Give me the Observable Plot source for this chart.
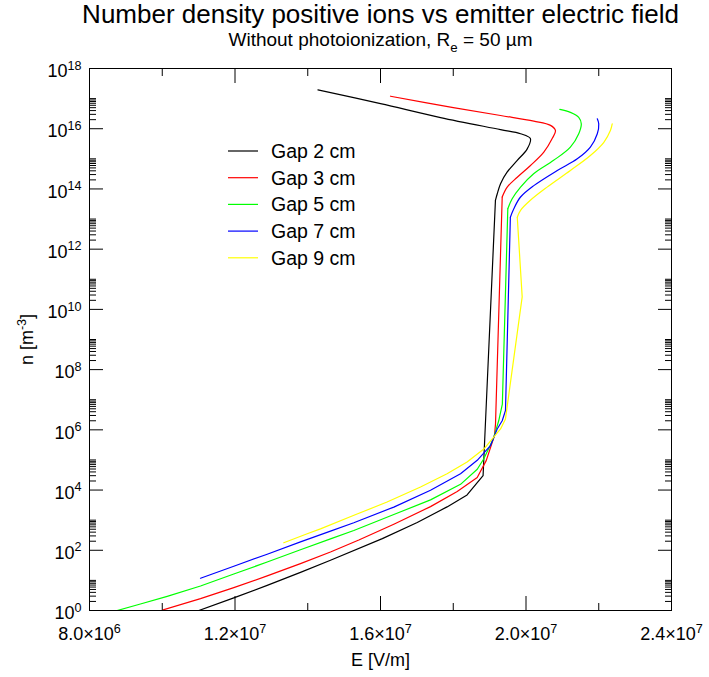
<!DOCTYPE html>
<html><head><meta charset="utf-8">
<script src="https://cdn.jsdelivr.net/npm/d3@7"></script>
<script src="https://cdn.jsdelivr.net/npm/@observablehq/plot@0.6"></script>
<style>body{margin:0;background:#fff;}</style>
</head><body><div id="chart"></div>
<script>
const titleText = "Number density positive ions vs emitter electric field";
const subtitleText = "Without photoionization, R_{e} = 50 µm";
const xLabelText = "E [V/m]";
const yLabelText = "n [m^{-3}]";

const seriesNames = ["Gap 2 cm", "Gap 3 cm", "Gap 5 cm", "Gap 7 cm", "Gap 9 cm"];
const seriesColors = ["#000000", "#ff0000", "#00ff00", "#0000ff", "#ffff00"];

// E [V/m] and n [m^-3] per gap; the first upperCount points form the smooth upper branch
const gap2E = [1.428e7, 1.600e7, 1.765e7, 1.930e7, 1.985e7, 2.012e7, 2.003e7, 1.976e7, 1.948e7, 1.930e7, 1.921e7, 1.916e7, 1.882e7, 1.838e7, 1.783e7, 1.701e7, 1.605e7, 1.4625e7, 1.380e7, 1.2885e7, 1.1967e7, 1.1005e7];
const gap2N = [1.95e17, 6.8e16, 2.35e16, 9.3e15, 6.8e15, 4.7e15, 2.1e15, 8.9e14, 3.6e14, 1.5e14, 6.9e13, 4.2e13, 3.0e4, 6.9e3, 2.76e3, 8.4e2, 2.44e2, 46.5, 18.4, 6.8, 2.62, 1.0];

const gap3E = [1.6275e7, 1.7925e7, 1.930e7, 2.0215e7, 2.0674e7, 2.081e7, 2.072e7, 2.049e7, 2.0124e7, 1.976e7, 1.9483e7, 1.9346e7, 1.9162e7, 1.9134e7, 1.8906e7, 1.8659e7, 1.8109e7, 1.7375e7, 1.6366e7, 1.5404e7, 1.4625e7, 1.380e7, 1.2885e7, 1.1967e7, 1.1052e7, 1.0026e7];
const gap3N = [1.2e17, 5.2e16, 2.75e16, 1.78e16, 1.29e16, 8.7e15, 4.7e15, 1.66e15, 6.0e14, 2.45e14, 1.15e14, 5.4e13, 1.58e6, 6.5e5, 9.5e4, 2.6e4, 8.9e3, 2.82e3, 735, 219, 88, 36, 14.1, 5.76, 2.48, 1.05];

const gap5E = [2.093e7, 2.122e7, 2.145e7, 2.152e7, 2.145e7, 2.122e7, 2.076e7, 2.021e7, 1.985e7, 1.962e7, 1.950e7, 1.935e7, 1.925e7, 1.910e7, 1.884e7, 1.866e7, 1.820e7, 1.7375e7, 1.6366e7, 1.5266e7, 1.4625e7, 1.380e7, 1.2885e7, 1.1967e7, 1.1052e7, 1.0136e7, 9.40e6, 8.76e6];
const gap5N = [4.4e16, 3.5e16, 2.4e16, 1.45e16, 6.8e15, 2.45e15, 8.9e14, 3.2e14, 1.15e14, 4.7e13, 2.2e13, 7.2e6, 2.0e6, 5.0e5, 1.1e5, 4.9e4, 1.55e4, 4.71e3, 1.54e3, 454, 239, 104.5, 40.8, 16.3, 6.5, 2.96, 1.64, 1.0];

const gap7E = [2.196e7, 2.200e7, 2.196e7, 2.177e7, 2.141e7, 2.086e7, 2.0215e7, 1.985e7, 1.9665e7, 1.957e7, 1.9436e7, 1.9346e7, 1.9208e7, 1.9024e7, 1.8659e7, 1.820e7, 1.7375e7, 1.6366e7, 1.5266e7, 1.4625e7, 1.380e7, 1.2885e7, 1.1967e7, 1.1052e7];
const gap7N = [2.14e16, 1.45e16, 6.8e15, 2.45e15, 1.0e15, 4.1e14, 1.29e14, 5.4e13, 2.2e13, 1.15e13, 4.4e6, 2.0e6, 1.07e6, 3.0e5, 9.7e4, 3.49e4, 9.89e3, 2.72e3, 824, 434, 190, 74.1, 29.6, 11.8];

const gap9E = [2.237e7, 2.232e7, 2.214e7, 2.177e7, 2.122e7, 2.058e7, 2.012e7, 1.985e7, 1.976e7, 1.9895e7, 1.9436e7, 1.930e7, 1.884e7, 1.838e7, 1.783e7, 1.710e7, 1.618e7, 1.527e7, 1.435e7, 1.3985e7, 1.334e7];
const gap9N = [1.45e16, 8.7e15, 3.55e15, 1.29e15, 4.1e14, 1.15e14, 4.2e13, 1.95e13, 1.15e13, 2.6e10, 2.3e6, 1.07e6, 2.3e5, 8.5e4, 3.5e4, 1.26e4, 4.0e3, 1.45e3, 513, 355, 178];

const upperCount = [12, 12, 11, 10, 9];

const xMajorTicks = [8e6, 1.2e7, 1.6e7, 2.0e7, 2.4e7];
const xTickLabels = ["8.0×10^{6}", "1.2×10^{7}", "1.6×10^{7}", "2.0×10^{7}", "2.4×10^{7}"];
const xMinorTicks = [1.0e7, 1.4e7, 1.8e7, 2.2e7];
const yMajorTicks = [1, 1e2, 1e4, 1e6, 1e8, 1e10, 1e12, 1e14, 1e16, 1e18];
const yTickLabels = ["10^{0}", "10^{2}", "10^{4}", "10^{6}", "10^{8}", "10^{10}", "10^{12}", "10^{14}", "10^{16}", "10^{18}"];
const yMinorMantissas = [2, 3, 4, 5, 6, 7, 8, 9, 10];

const seriesE = [gap2E, gap3E, gap5E, gap7E, gap9E];
const seriesN = [gap2N, gap3N, gap5N, gap7N, gap9N];
const upperRows = [], lowerRows = [];
seriesNames.forEach((name, s) => seriesE[s].forEach((e, i) => {
  const row = {gap: name, E: e, n: seriesN[s][i]};
  if (i < upperCount[s]) upperRows.push(row);
  if (i >= upperCount[s] - 1) lowerRows.push(row);
}));
const yMinorTicks = [];
yMajorTicks.slice(0, -1).forEach(b => yMinorMantissas.forEach(m => yMinorTicks.push(m * b)));

const FS = 18;
const tickOnly = {fill: "none", label: null, stroke: "black"};

const lineMarks = [];
seriesNames.forEach(name => {
  lineMarks.push(Plot.line(upperRows.filter(r => r.gap === name), {x: "E", y: "n", stroke: "gap", strokeWidth: 1.2, curve: "catmull-rom", clip: true}));
  lineMarks.push(Plot.line(lowerRows.filter(r => r.gap === name), {x: "E", y: "n", stroke: "gap", strokeWidth: 1.2, clip: true}));
});

const plot = Plot.plot({
  width: 709, height: 677,
  marginLeft: 89, marginRight: 38, marginTop: 68, marginBottom: 67,
  style: {fontFamily: "'Liberation Sans', Arial, sans-serif", fontSize: FS + "px", background: "white", color: "black", overflow: "visible"},
  x: {domain: [8e6, 2.4e7], axis: null},
  y: {type: "log", domain: [1, 1e18], axis: null},
  color: {domain: seriesNames, range: seriesColors},
  marks: [
    ...lineMarks,
    Plot.frame({stroke: "black"}),
    Plot.axisY(yMajorTicks, {anchor: "left", tickSize: -14, ...tickOnly}),
    Plot.axisY(yMinorTicks, {anchor: "left", tickSize: -7, ...tickOnly}),
    Plot.axisY(yMajorTicks, {anchor: "right", tickSize: -14, ...tickOnly}),
    Plot.axisY(yMinorTicks, {anchor: "right", tickSize: -7, ...tickOnly}),
    Plot.axisX(xMajorTicks, {anchor: "bottom", tickSize: -14, ...tickOnly}),
    Plot.axisX(xMinorTicks, {anchor: "bottom", tickSize: -7, ...tickOnly}),
    Plot.axisX(xMajorTicks, {anchor: "top", tickSize: -14, ...tickOnly}),
    Plot.axisX(xMinorTicks, {anchor: "top", tickSize: -7, ...tickOnly}),
    Plot.axisY(yMajorTicks, {anchor: "left", tickSize: 0, tickPadding: 8, dy: 3, fontSize: FS, label: null,
      tickFormat: d => yTickLabels[yMajorTicks.indexOf(d)]}),
    Plot.axisX(xMajorTicks, {anchor: "bottom", tickSize: 0, tickPadding: 17, fontSize: FS, label: null,
      tickFormat: d => xTickLabels[xMajorTicks.indexOf(d)]}),
    Plot.text([titleText], {frameAnchor: "top", lineAnchor: "top", dy: -64, fontSize: 26, text: d => d}),
    Plot.text([subtitleText], {frameAnchor: "top", lineAnchor: "top", dy: -36, fontSize: 19, text: d => d}),
    Plot.text([xLabelText], {frameAnchor: "bottom", lineAnchor: "middle", dy: 50, fontSize: FS, text: d => d}),
    Plot.text([yLabelText], {frameAnchor: "left", textAnchor: "middle", lineAnchor: "middle", dx: -62, rotate: -90, fontSize: FS, text: d => d})
  ]
});
document.getElementById("chart").appendChild(plot);

// legend
const svg = d3.select(plot);
const lg = svg.append("g").attr("font-size", 19.5).attr("fill", "black").attr("text-anchor", "start");
seriesNames.forEach((name, i) => {
  const y = 151 + i * 26.7;
  lg.append("line").attr("x1", 228).attr("x2", 258).attr("y1", y).attr("y2", y)
    .attr("stroke", seriesColors[i]).attr("stroke-width", 1.2);
  lg.append("text").attr("x", 271).attr("y", y).attr("dy", "0.35em").text(name);
});

// super/subscripts
const NS = "http://www.w3.org/2000/svg";
svg.selectAll("text").each(function() {
  const raw = this.textContent;
  if (!/[\^_]\{/.test(raw)) return;
  const fs = parseFloat(getComputedStyle(this).fontSize);
  while (this.firstChild) this.removeChild(this.firstChild);
  let cur = 0, last = 0, m;
  const re = /([\^_])\{([^}]*)\}/g;
  const add = (str, target, size) => {
    const ts = document.createElementNS(NS, "tspan");
    ts.textContent = str;
    const dy = target - cur;
    if (dy) ts.setAttribute("dy", dy);
    if (size) ts.setAttribute("font-size", size);
    cur = target;
    this.appendChild(ts);
  };
  while ((m = re.exec(raw))) {
    if (m.index > last) add(raw.slice(last, m.index), 0, null);
    add(m[2], m[1] === "^" ? -0.42 * fs : 0.3 * fs, 0.7 * fs);
    last = re.lastIndex;
  }
  if (last < raw.length) add(raw.slice(last), 0, null);
});
</script>
</body></html>
